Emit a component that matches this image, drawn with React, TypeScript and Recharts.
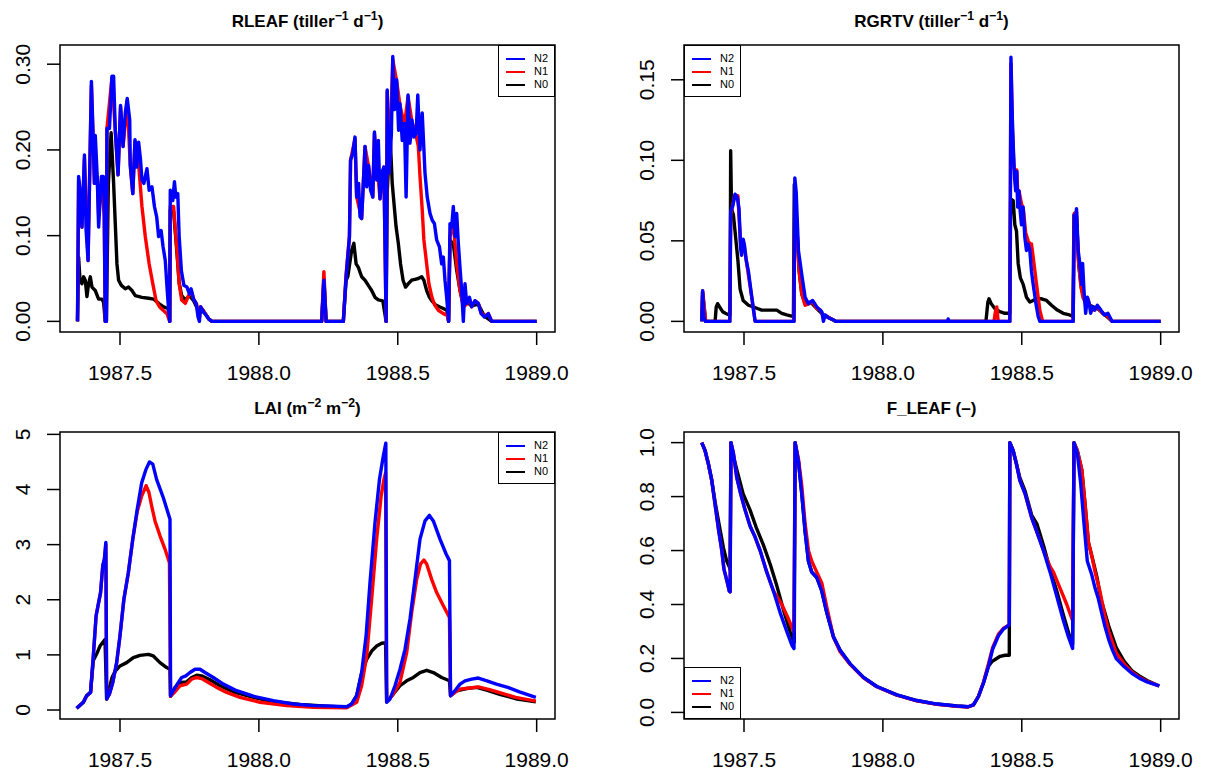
import React from 'react';
import { LineChart, Line, XAxis, YAxis, ReferenceArea } from 'recharts';

type Pt = [number, number];

const FONT = '"Liberation Sans", Arial, Helvetica, sans-serif';
const X_DOMAIN: [number, number] = [1987.284, 1989.066];
const X_TICKS = [1987.5, 1988.0, 1988.5, 1989.0];

// ---- RLEAF (tiller-1 d-1) ----
const RLEAF_N2: Pt[] = [
  [1987.347, 0], [1987.351, 0.169], [1987.356, 0.153], [1987.363, 0.11], [1987.372, 0.194], [1987.378, 0.106],
  [1987.385, 0.071], [1987.397, 0.28], [1987.403, 0.219], [1987.408, 0.161], [1987.411, 0.217], [1987.418, 0.169],
  [1987.423, 0.11], [1987.433, 0.169], [1987.44, 0.169], [1987.443, 0.14], [1987.447, 0],
  [1987.451, 0], [1987.453, 0.225], [1987.462, 0.225], [1987.471, 0.286], [1987.477, 0.286], [1987.483, 0.223],
  [1987.493, 0.171], [1987.502, 0.252], [1987.511, 0.204], [1987.519, 0.243], [1987.526, 0.26], [1987.535, 0.235],
  [1987.537, 0.182], [1987.546, 0.149], [1987.554, 0.212], [1987.56, 0.18], [1987.567, 0.209], [1987.574, 0.188],
  [1987.579, 0.165], [1987.586, 0.161], [1987.597, 0.178], [1987.605, 0.153], [1987.615, 0.157], [1987.624, 0.134],
  [1987.632, 0.122], [1987.639, 0.099], [1987.648, 0.106], [1987.655, 0.087], [1987.663, 0.071], [1987.67, 0.036],
  [1987.676, 0.009], [1987.679, 0],
  [1987.681, 0.153], [1987.69, 0.141], [1987.696, 0.163], [1987.701, 0.145], [1987.708, 0.149], [1987.713, 0.099],
  [1987.721, 0.059], [1987.73, 0.042], [1987.741, 0.04], [1987.75, 0.032], [1987.756, 0.038], [1987.765, 0.026],
  [1987.774, 0.021], [1987.781, 0.005], [1987.786, 0], [1987.79, 0.017], [1987.801, 0.011], [1987.81, 0.007],
  [1987.819, 0.003], [1987.831, 0],
  [1988.226, 0], [1988.234, 0.048], [1988.242, 0], [1988.304, 0], [1988.314, 0.052], [1988.326, 0.099],
  [1988.33, 0.188], [1988.338, 0.196], [1988.346, 0.215], [1988.352, 0.145], [1988.359, 0.161], [1988.364, 0.122],
  [1988.37, 0.12], [1988.376, 0.161], [1988.382, 0.204], [1988.388, 0.157], [1988.395, 0.182], [1988.402, 0.153],
  [1988.41, 0.145], [1988.416, 0.221], [1988.424, 0.165], [1988.43, 0.211], [1988.436, 0.143], [1988.442, 0.173],
  [1988.45, 0.18], [1988.458, 0],
  [1988.462, 0.27], [1988.469, 0.173], [1988.477, 0.219], [1988.482, 0.309], [1988.488, 0.247], [1988.496, 0.282],
  [1988.503, 0.223], [1988.508, 0.254], [1988.516, 0.211], [1988.524, 0.231], [1988.53, 0.145], [1988.537, 0.264],
  [1988.544, 0.208], [1988.551, 0.235], [1988.558, 0.215], [1988.566, 0.219], [1988.572, 0.264], [1988.58, 0.2],
  [1988.588, 0.243], [1988.598, 0.173], [1988.606, 0.145], [1988.616, 0.126], [1988.624, 0.118], [1988.632, 0.114],
  [1988.64, 0.095], [1988.65, 0.087], [1988.658, 0.067], [1988.664, 0.075], [1988.67, 0.048], [1988.676, 0.028],
  [1988.683, 0],
  [1988.688, 0.114], [1988.694, 0.11], [1988.7, 0.134], [1988.706, 0.099], [1988.712, 0.126], [1988.718, 0.091],
  [1988.724, 0.063], [1988.73, 0.036], [1988.736, 0], [1988.742, 0.044], [1988.748, 0.021], [1988.758, 0.028],
  [1988.766, 0.017], [1988.778, 0.024], [1988.79, 0.021], [1988.8, 0.009], [1988.812, 0.005], [1988.826, 0.009],
  [1988.838, 0], [1989.0, 0],
];
const RLEAF_N1: Pt[] = [
  [1987.347, 0], [1987.351, 0.165], [1987.363, 0.11], [1987.372, 0.19], [1987.385, 0.071], [1987.397, 0.275],
  [1987.408, 0.161], [1987.418, 0.169], [1987.423, 0.124], [1987.433, 0.165], [1987.443, 0.124], [1987.447, 0],
  [1987.451, 0], [1987.453, 0.225], [1987.471, 0.284], [1987.483, 0.223], [1987.493, 0.171], [1987.502, 0.25],
  [1987.511, 0.204], [1987.526, 0.258], [1987.537, 0.182], [1987.546, 0.149], [1987.554, 0.21], [1987.565, 0.192],
  [1987.579, 0.134], [1987.591, 0.099], [1987.605, 0.067], [1987.618, 0.044], [1987.63, 0.024], [1987.642, 0.017],
  [1987.655, 0.013], [1987.669, 0.009], [1987.679, 0],
  [1987.681, 0.134], [1987.693, 0.134], [1987.705, 0.083], [1987.713, 0.044], [1987.722, 0.025], [1987.735, 0.021],
  [1987.744, 0.028], [1987.756, 0.036], [1987.765, 0.026], [1987.776, 0.02], [1987.786, 0.004], [1987.79, 0.017],
  [1987.801, 0.012], [1987.819, 0.003], [1987.831, 0],
  [1988.226, 0], [1988.234, 0.058], [1988.242, 0], [1988.304, 0], [1988.314, 0.055], [1988.326, 0.099],
  [1988.33, 0.188], [1988.346, 0.213], [1988.352, 0.145], [1988.37, 0.12], [1988.382, 0.204], [1988.395, 0.18],
  [1988.41, 0.145], [1988.416, 0.219], [1988.436, 0.143], [1988.45, 0.18], [1988.458, 0],
  [1988.462, 0.268], [1988.469, 0.173], [1988.482, 0.305], [1988.496, 0.28], [1988.508, 0.252], [1988.524, 0.229],
  [1988.537, 0.262], [1988.551, 0.233], [1988.566, 0.217], [1988.574, 0.204], [1988.58, 0.169], [1988.588, 0.13],
  [1988.594, 0.095], [1988.604, 0.067], [1988.612, 0.044], [1988.623, 0.028], [1988.633, 0.019], [1988.646, 0.013],
  [1988.664, 0.009], [1988.678, 0.007], [1988.683, 0],
  [1988.688, 0.099], [1988.7, 0.114], [1988.712, 0.067], [1988.724, 0.036], [1988.736, 0.017], [1988.748, 0.02],
  [1988.758, 0.026], [1988.766, 0.017], [1988.778, 0.024], [1988.79, 0.021], [1988.8, 0.01], [1988.812, 0.006],
  [1988.826, 0.009], [1988.838, 0], [1989.0, 0],
];
const RLEAF_N0: Pt[] = [
  [1987.347, 0], [1987.351, 0.075], [1987.356, 0.048], [1987.363, 0.044], [1987.369, 0.052], [1987.375, 0.048],
  [1987.381, 0.029], [1987.387, 0.044], [1987.393, 0.052], [1987.399, 0.04], [1987.411, 0.036], [1987.423, 0.026],
  [1987.435, 0.026], [1987.441, 0.022], [1987.447, 0],
  [1987.451, 0], [1987.458, 0.16], [1987.468, 0.22], [1987.477, 0.161], [1987.483, 0.114], [1987.489, 0.067],
  [1987.495, 0.048], [1987.505, 0.042], [1987.519, 0.038], [1987.531, 0.04], [1987.543, 0.036], [1987.555, 0.03],
  [1987.579, 0.028], [1987.603, 0.027], [1987.621, 0.026], [1987.639, 0.021], [1987.657, 0.017], [1987.673, 0.015],
  [1987.679, 0],
  [1987.681, 0.13], [1987.693, 0.128], [1987.705, 0.08], [1987.713, 0.045], [1987.722, 0.03], [1987.735, 0.025],
  [1987.75, 0.03], [1987.765, 0.024], [1987.786, 0.01], [1987.801, 0.012], [1987.819, 0.003], [1987.831, 0],
  [1988.226, 0], [1988.234, 0.05], [1988.242, 0], [1988.304, 0], [1988.314, 0.048], [1988.32, 0.052],
  [1988.334, 0.083], [1988.342, 0.091], [1988.35, 0.067], [1988.358, 0.063], [1988.37, 0.052], [1988.382, 0.048],
  [1988.394, 0.042], [1988.406, 0.036], [1988.418, 0.028], [1988.43, 0.025], [1988.446, 0.024], [1988.458, 0],
  [1988.462, 0.15], [1988.472, 0.22], [1988.48, 0.161], [1988.494, 0.11], [1988.502, 0.091], [1988.51, 0.067],
  [1988.519, 0.048], [1988.528, 0.04], [1988.538, 0.044], [1988.55, 0.048], [1988.562, 0.049], [1988.574, 0.05],
  [1988.586, 0.052], [1988.594, 0.048], [1988.604, 0.036], [1988.614, 0.028], [1988.625, 0.023], [1988.637, 0.019],
  [1988.65, 0.017], [1988.664, 0.015], [1988.676, 0.013], [1988.683, 0],
  [1988.688, 0.095], [1988.7, 0.09], [1988.712, 0.06], [1988.724, 0.036], [1988.736, 0.02], [1988.75, 0.022],
  [1988.766, 0.018], [1988.79, 0.02], [1988.812, 0.006], [1988.838, 0], [1989.0, 0],
];

// ---- RGRTV (tiller-1 d-1) ----
const RGRTV_N2: Pt[] = [
  [1987.348, 0], [1987.351, 0.019], [1987.356, 0.002], [1987.362, 0], [1987.449, 0], [1987.452, 0.068],
  [1987.46, 0.072], [1987.468, 0.079], [1987.476, 0.077], [1987.482, 0.07], [1987.488, 0.045], [1987.491, 0.041],
  [1987.497, 0.051], [1987.502, 0.047], [1987.508, 0.038], [1987.516, 0.031], [1987.528, 0.015], [1987.54, 0],
  [1987.68, 0], [1987.683, 0.089], [1987.688, 0.08], [1987.696, 0.044], [1987.708, 0.029], [1987.72, 0.015],
  [1987.732, 0.011], [1987.747, 0.013], [1987.762, 0.009], [1987.78, 0.006], [1987.786, 0], [1987.792, 0.004],
  [1987.806, 0.002], [1987.822, 0.001], [1987.83, 0], [1988.232, 0], [1988.235, 0.0015], [1988.238, 0],
  [1988.457, 0], [1988.461, 0.164], [1988.466, 0.126], [1988.47, 0.106], [1988.474, 0.089], [1988.478, 0.081],
  [1988.482, 0.093], [1988.485, 0.071], [1988.49, 0.081], [1988.494, 0.069], [1988.499, 0.06], [1988.505, 0.071],
  [1988.511, 0.052], [1988.517, 0.044], [1988.523, 0.048], [1988.529, 0.044], [1988.535, 0.031], [1988.541, 0.023],
  [1988.551, 0.011], [1988.559, 0.003], [1988.565, 0], [1988.685, 0], [1988.689, 0.066], [1988.693, 0.06],
  [1988.697, 0.07], [1988.703, 0.044], [1988.709, 0.036], [1988.715, 0.023], [1988.719, 0.036], [1988.724, 0.019],
  [1988.73, 0.005], [1988.736, 0.015], [1988.743, 0.011], [1988.748, 0.005], [1988.755, 0.009], [1988.763, 0.007],
  [1988.772, 0.01], [1988.785, 0.007], [1988.797, 0.004], [1988.81, 0.005], [1988.825, 0], [1989.0, 0],
];
const RGRTV_N1: Pt[] = [
  [1987.348, 0], [1987.351, 0.019], [1987.362, 0], [1987.449, 0], [1987.452, 0.066], [1987.466, 0.078],
  [1987.478, 0.078], [1987.488, 0.047], [1987.497, 0.05], [1987.508, 0.038], [1987.528, 0.015], [1987.54, 0],
  [1987.68, 0], [1987.683, 0.085], [1987.69, 0.06], [1987.698, 0.032], [1987.708, 0.017], [1987.72, 0.01],
  [1987.735, 0.011], [1987.747, 0.012], [1987.762, 0.008], [1987.775, 0.007], [1987.786, 0.003], [1987.8, 0.003],
  [1987.83, 0], [1988.4, 0], [1988.405, 0.006], [1988.41, 0.009], [1988.415, 0], [1988.457, 0],
  [1988.461, 0.16], [1988.466, 0.12], [1988.472, 0.095], [1988.478, 0.094], [1988.482, 0.094], [1988.486, 0.078],
  [1988.49, 0.081], [1988.499, 0.073], [1988.506, 0.069], [1988.514, 0.055], [1988.523, 0.05], [1988.53, 0.048],
  [1988.535, 0.048], [1988.541, 0.04], [1988.553, 0.023], [1988.565, 0.007], [1988.575, 0], [1988.685, 0],
  [1988.689, 0.067], [1988.697, 0.068], [1988.703, 0.04], [1988.712, 0.023], [1988.72, 0.015], [1988.728, 0.012],
  [1988.738, 0.014], [1988.748, 0.008], [1988.76, 0.007], [1988.772, 0.009], [1988.79, 0.005], [1988.805, 0.004],
  [1988.825, 0], [1989.0, 0],
];
const RGRTV_N0: Pt[] = [
  [1987.348, 0], [1987.351, 0.018], [1987.362, 0], [1987.396, 0], [1987.4, 0.009], [1987.405, 0.011],
  [1987.412, 0.009], [1987.423, 0.006], [1987.433, 0.005], [1987.446, 0.004], [1987.45, 0.004], [1987.452, 0.106],
  [1987.455, 0.07], [1987.462, 0.066], [1987.47, 0.052], [1987.478, 0.038], [1987.486, 0.02], [1987.497, 0.013],
  [1987.516, 0.01], [1987.533, 0.009], [1987.548, 0.008], [1987.564, 0.007], [1987.594, 0.007], [1987.618, 0.007],
  [1987.636, 0.005], [1987.654, 0.004], [1987.678, 0.003], [1987.681, 0.085], [1987.69, 0.06], [1987.698, 0.032],
  [1987.708, 0.017], [1987.72, 0.011], [1987.74, 0.012], [1987.762, 0.008], [1987.786, 0.004], [1987.83, 0],
  [1988.371, 0], [1988.378, 0.012], [1988.382, 0.014], [1988.39, 0.011], [1988.403, 0.008], [1988.421, 0.006],
  [1988.439, 0.005], [1988.457, 0.005], [1988.46, 0.076], [1988.469, 0.075], [1988.475, 0.06], [1988.481, 0.056],
  [1988.487, 0.036], [1988.495, 0.027], [1988.505, 0.023], [1988.517, 0.015], [1988.529, 0.012], [1988.541, 0.013],
  [1988.556, 0.014], [1988.571, 0.014], [1988.589, 0.013], [1988.607, 0.01], [1988.628, 0.007], [1988.649, 0.005],
  [1988.672, 0.004], [1988.684, 0.003], [1988.688, 0.066], [1988.697, 0.065], [1988.705, 0.035], [1988.715, 0.02],
  [1988.728, 0.012], [1988.745, 0.01], [1988.772, 0.008], [1988.8, 0.004], [1988.825, 0], [1989.0, 0],
];

// ---- LAI (m-2 m-2) ----
const LAI_N2: Pt[] = [
  [1987.344, 0.03], [1987.368, 0.14], [1987.38, 0.26], [1987.394, 0.32], [1987.404, 0.98], [1987.414, 1.71],
  [1987.422, 1.92], [1987.43, 2.13], [1987.438, 2.62], [1987.444, 2.74], [1987.449, 3.04], [1987.452, 0.2],
  [1987.462, 0.29], [1987.474, 0.5], [1987.488, 0.86], [1987.5, 1.35], [1987.514, 2.01], [1987.53, 2.49],
  [1987.546, 3.1], [1987.562, 3.64], [1987.578, 4.12], [1987.594, 4.37], [1987.606, 4.5], [1987.618, 4.46],
  [1987.632, 4.18], [1987.656, 3.85], [1987.68, 3.46], [1987.682, 0.26], [1987.692, 0.35], [1987.706, 0.47],
  [1987.722, 0.59], [1987.737, 0.62], [1987.752, 0.68], [1987.77, 0.74], [1987.788, 0.74], [1987.806, 0.68],
  [1987.836, 0.59], [1987.872, 0.47], [1987.92, 0.35], [1987.98, 0.25], [1988.052, 0.17], [1988.124, 0.11],
  [1988.196, 0.08], [1988.268, 0.07], [1988.316, 0.06], [1988.334, 0.11], [1988.352, 0.26], [1988.37, 0.68],
  [1988.386, 1.35], [1988.4, 2.31], [1988.418, 3.4], [1988.434, 4.18], [1988.448, 4.61], [1988.457, 4.84],
  [1988.46, 0.14], [1988.472, 0.2], [1988.49, 0.44], [1988.508, 0.74], [1988.526, 1.1], [1988.544, 1.65],
  [1988.562, 2.37], [1988.58, 3.1], [1988.598, 3.43], [1988.614, 3.53], [1988.628, 3.43], [1988.652, 3.1],
  [1988.674, 2.83], [1988.686, 2.71], [1988.69, 0.26], [1988.706, 0.35], [1988.724, 0.47], [1988.742, 0.53],
  [1988.766, 0.56], [1988.79, 0.58], [1988.821, 0.53], [1988.855, 0.47], [1988.896, 0.41], [1988.938, 0.33],
  [1988.997, 0.23],
];
const LAI_N1: Pt[] = [
  [1987.344, 0.03], [1987.368, 0.14], [1987.38, 0.26], [1987.394, 0.32], [1987.404, 0.98], [1987.414, 1.71],
  [1987.422, 1.92], [1987.43, 2.13], [1987.438, 2.62], [1987.444, 2.74], [1987.449, 3.0], [1987.452, 0.2],
  [1987.462, 0.29], [1987.474, 0.5], [1987.488, 0.86], [1987.5, 1.35], [1987.514, 2.01], [1987.53, 2.49],
  [1987.546, 3.1], [1987.562, 3.6], [1987.578, 3.88], [1987.594, 4.07], [1987.604, 3.95], [1987.614, 3.7],
  [1987.626, 3.43], [1987.644, 3.16], [1987.662, 2.92], [1987.678, 2.67], [1987.682, 0.25], [1987.696, 0.32],
  [1987.716, 0.44], [1987.74, 0.47], [1987.758, 0.56], [1987.776, 0.59], [1987.794, 0.57], [1987.818, 0.5],
  [1987.848, 0.41], [1987.884, 0.32], [1987.932, 0.23], [1988.004, 0.14], [1988.1, 0.08], [1988.196, 0.05],
  [1988.316, 0.04], [1988.352, 0.14], [1988.37, 0.44], [1988.388, 0.98], [1988.406, 2.01], [1988.424, 3.1],
  [1988.44, 3.88], [1988.45, 4.18], [1988.456, 4.3], [1988.46, 0.15], [1988.48, 0.26], [1988.508, 0.5],
  [1988.532, 1.04], [1988.55, 1.77], [1988.568, 2.37], [1988.582, 2.65], [1988.594, 2.72], [1988.604, 2.65],
  [1988.622, 2.37], [1988.64, 2.13], [1988.664, 1.89], [1988.686, 1.68], [1988.69, 0.26], [1988.706, 0.32],
  [1988.724, 0.38], [1988.76, 0.4], [1988.79, 0.42], [1988.83, 0.37], [1988.87, 0.31], [1988.924, 0.23],
  [1988.997, 0.16],
];
const LAI_N0: Pt[] = [
  [1987.344, 0.03], [1987.368, 0.14], [1987.38, 0.26], [1987.394, 0.32], [1987.404, 0.9], [1987.418, 1.04],
  [1987.428, 1.16], [1987.446, 1.28], [1987.452, 0.2], [1987.462, 0.4], [1987.472, 0.6], [1987.482, 0.7],
  [1987.5, 0.8], [1987.524, 0.86], [1987.548, 0.95], [1987.572, 0.99], [1987.602, 1.01], [1987.62, 0.98],
  [1987.644, 0.86], [1987.668, 0.77], [1987.68, 0.74], [1987.682, 0.25], [1987.698, 0.41], [1987.722, 0.5],
  [1987.74, 0.51], [1987.758, 0.59], [1987.776, 0.63], [1987.794, 0.62], [1987.824, 0.55], [1987.86, 0.44],
  [1987.908, 0.33], [1987.98, 0.23], [1988.052, 0.15], [1988.148, 0.1], [1988.244, 0.07], [1988.316, 0.05],
  [1988.334, 0.11], [1988.352, 0.26], [1988.37, 0.68], [1988.388, 0.92], [1988.406, 1.07], [1988.424, 1.16],
  [1988.442, 1.21], [1988.456, 1.22], [1988.46, 0.15], [1988.484, 0.29], [1988.508, 0.44], [1988.532, 0.53],
  [1988.556, 0.59], [1988.58, 0.68], [1988.604, 0.72], [1988.628, 0.68], [1988.658, 0.59], [1988.686, 0.53],
  [1988.69, 0.26], [1988.712, 0.35], [1988.748, 0.39], [1988.784, 0.41], [1988.82, 0.36], [1988.87, 0.28],
  [1988.93, 0.2], [1988.997, 0.15],
];

// ---- F_LEAF (-) ----
const FLEAF_N2: Pt[] = [
  [1987.348, 1.0], [1987.36, 0.97], [1987.372, 0.92], [1987.384, 0.86], [1987.396, 0.77], [1987.408, 0.68],
  [1987.42, 0.6], [1987.428, 0.53], [1987.438, 0.49], [1987.447, 0.45], [1987.45, 0.447], [1987.453, 1.0],
  [1987.462, 0.96], [1987.474, 0.87], [1987.488, 0.81], [1987.504, 0.75], [1987.522, 0.69], [1987.54, 0.65],
  [1987.558, 0.6], [1987.582, 0.52], [1987.606, 0.45], [1987.63, 0.37], [1987.654, 0.3], [1987.672, 0.25],
  [1987.68, 0.237], [1987.684, 1.0], [1987.696, 0.93], [1987.708, 0.81], [1987.72, 0.67], [1987.732, 0.56],
  [1987.744, 0.52], [1987.762, 0.5], [1987.78, 0.45], [1987.798, 0.37], [1987.822, 0.28], [1987.846, 0.23],
  [1987.882, 0.18], [1987.93, 0.13], [1987.978, 0.096], [1988.05, 0.065], [1988.122, 0.044], [1988.194, 0.031],
  [1988.266, 0.024], [1988.307, 0.021], [1988.326, 0.028], [1988.344, 0.059], [1988.362, 0.109], [1988.38, 0.171],
  [1988.395, 0.234], [1988.416, 0.284], [1988.434, 0.309], [1988.451, 0.322], [1988.455, 0.325], [1988.457, 1.0],
  [1988.469, 0.97], [1988.481, 0.92], [1988.493, 0.86], [1988.512, 0.81], [1988.536, 0.72], [1988.554, 0.67],
  [1988.578, 0.6], [1988.602, 0.52], [1988.626, 0.43], [1988.65, 0.34], [1988.668, 0.28], [1988.683, 0.237],
  [1988.688, 1.0], [1988.7, 0.96], [1988.712, 0.85], [1988.724, 0.7], [1988.736, 0.56], [1988.752, 0.51],
  [1988.764, 0.46], [1988.776, 0.42], [1988.785, 0.38], [1988.799, 0.32], [1988.813, 0.27], [1988.827, 0.23],
  [1988.84, 0.2], [1988.868, 0.17], [1988.896, 0.145], [1988.923, 0.127], [1988.951, 0.113], [1988.975, 0.105],
  [1988.995, 0.098],
];
const FLEAF_N1: Pt[] = [
  [1987.348, 1.0], [1987.36, 0.97], [1987.372, 0.92], [1987.384, 0.86], [1987.396, 0.77], [1987.408, 0.68],
  [1987.42, 0.6], [1987.428, 0.53], [1987.438, 0.49], [1987.447, 0.45], [1987.45, 0.447], [1987.453, 1.0],
  [1987.462, 0.96], [1987.474, 0.87], [1987.488, 0.81], [1987.504, 0.75], [1987.522, 0.69], [1987.54, 0.65],
  [1987.558, 0.6], [1987.582, 0.52], [1987.606, 0.45], [1987.636, 0.4], [1987.654, 0.36], [1987.675, 0.31],
  [1987.68, 0.3], [1987.684, 1.0], [1987.696, 0.94], [1987.708, 0.84], [1987.72, 0.7], [1987.732, 0.6],
  [1987.744, 0.56], [1987.762, 0.52], [1987.78, 0.48], [1987.798, 0.39], [1987.822, 0.28], [1987.846, 0.225],
  [1987.882, 0.178], [1987.93, 0.128], [1987.978, 0.095], [1988.05, 0.064], [1988.122, 0.043], [1988.194, 0.03],
  [1988.266, 0.023], [1988.307, 0.02], [1988.326, 0.028], [1988.344, 0.06], [1988.362, 0.112], [1988.38, 0.18],
  [1988.395, 0.24], [1988.416, 0.29], [1988.434, 0.312], [1988.451, 0.322], [1988.455, 0.325], [1988.457, 1.0],
  [1988.469, 0.97], [1988.481, 0.92], [1988.493, 0.86], [1988.512, 0.81], [1988.536, 0.72], [1988.554, 0.67],
  [1988.578, 0.6], [1988.602, 0.54], [1988.614, 0.52], [1988.638, 0.46], [1988.662, 0.4], [1988.683, 0.34],
  [1988.688, 1.0], [1988.7, 0.97], [1988.716, 0.9], [1988.728, 0.77], [1988.74, 0.63], [1988.752, 0.58],
  [1988.764, 0.52], [1988.781, 0.45], [1988.799, 0.36], [1988.813, 0.3], [1988.84, 0.22], [1988.868, 0.18],
  [1988.896, 0.15], [1988.923, 0.13], [1988.951, 0.115], [1988.975, 0.106], [1988.995, 0.098],
];
const FLEAF_N0: Pt[] = [
  [1987.348, 1.0], [1987.36, 0.97], [1987.372, 0.92], [1987.384, 0.86], [1987.396, 0.78], [1987.408, 0.71],
  [1987.426, 0.61], [1987.438, 0.56], [1987.447, 0.54], [1987.45, 0.53], [1987.453, 1.0], [1987.462, 0.95],
  [1987.474, 0.9], [1987.497, 0.81], [1987.522, 0.75], [1987.546, 0.68], [1987.57, 0.62], [1987.594, 0.55],
  [1987.618, 0.47], [1987.642, 0.38], [1987.666, 0.3], [1987.678, 0.265], [1987.681, 0.26], [1987.684, 1.0],
  [1987.696, 0.93], [1987.708, 0.81], [1987.72, 0.67], [1987.732, 0.56], [1987.744, 0.52], [1987.762, 0.5],
  [1987.78, 0.45], [1987.798, 0.37], [1987.822, 0.28], [1987.846, 0.23], [1987.882, 0.18], [1987.93, 0.13],
  [1987.978, 0.096], [1988.05, 0.065], [1988.122, 0.044], [1988.194, 0.031], [1988.266, 0.024], [1988.307, 0.021],
  [1988.326, 0.028], [1988.344, 0.059], [1988.362, 0.109], [1988.38, 0.171], [1988.392, 0.188], [1988.404, 0.196],
  [1988.422, 0.208], [1988.44, 0.212], [1988.455, 0.212], [1988.457, 1.0], [1988.469, 0.97], [1988.481, 0.92],
  [1988.493, 0.87], [1988.512, 0.82], [1988.536, 0.73], [1988.554, 0.7], [1988.578, 0.62], [1988.602, 0.53],
  [1988.626, 0.45], [1988.65, 0.36], [1988.673, 0.28], [1988.683, 0.253], [1988.688, 1.0], [1988.7, 0.97],
  [1988.716, 0.9], [1988.728, 0.77], [1988.74, 0.63], [1988.757, 0.56], [1988.771, 0.5], [1988.785, 0.42],
  [1988.813, 0.32], [1988.84, 0.24], [1988.868, 0.19], [1988.896, 0.155], [1988.923, 0.135], [1988.951, 0.118],
  [1988.975, 0.107], [1988.995, 0.098],
];

const toPts = (a: Pt[]) => a.map(([t, v]) => ({ t, v }));

const Sup = ({ children }: any) => (
  <span style={{ fontSize: '0.72em', position: 'relative', top: '-0.55em' }}>{children}</span>
);

const XTick = ({ x, y, payload }: any) => (
  <text x={x} y={y + 33} textAnchor="middle" fontSize={21} fill="#000" fontFamily={FONT}>
    {Number(payload.value).toFixed(1)}
  </text>
);

const makeYTick = (digits: number) => ({ x, y, payload }: any) => (
  <text
    x={x - 15}
    y={y}
    transform={`rotate(-90 ${x - 15} ${y})`}
    textAnchor="middle"
    fontSize={21}
    fill="#000"
    fontFamily={FONT}
  >
    {Number(payload.value).toFixed(digits)}
  </text>
);

const LegendBox = ({ left, top }: { left: number; top: number }) => (
  <div
    style={{
      position: 'absolute', left, top, width: 57, height: 52, boxSizing: 'border-box',
      border: '1.5px solid #000', background: '#fff', fontFamily: FONT, fontSize: 11,
    }}
  >
    {[['N2', '#0000ff'], ['N1', '#ff0000'], ['N0', '#000000']].map(([name, col], i) => (
      <div key={name} style={{ position: 'absolute', left: 0, top: 6 + i * 13, height: 13, width: 55 }}>
        <div style={{ position: 'absolute', left: 7, top: 5.5, width: 19, height: 2, background: col }} />
        <div style={{ position: 'absolute', left: 35, top: 0, lineHeight: '13px' }}>{name}</div>
      </div>
    ))}
  </div>
);

type PanelProps = {
  left: number;
  top: number;
  title: React.ReactNode;
  domain: [number, number];
  ticks: number[];
  digits: number;
  n2: Pt[];
  n1: Pt[];
  n0: Pt[];
  legend: [number, number];
};

function Panel({ left, top, title, domain, ticks, digits, n2, n1, n0, legend }: PanelProps) {
  const series: [Pt[], string][] = [[n0, '#000000'], [n1, '#ff0000'], [n2, '#0000ff']];
  return (
    <div style={{ position: 'absolute', left, top, width: 602, height: 387 }}>
      <div
        style={{
          position: 'absolute', left: 60, width: 495, top: 12, textAlign: 'center',
          fontFamily: FONT, fontWeight: 'bold', fontSize: 17, lineHeight: '20px',
        }}
      >
        {title}
      </div>
      <LineChart width={602} height={387} margin={{ top: 45, right: 47, bottom: 0, left: 0 }}>
        <XAxis
          type="number"
          dataKey="t"
          domain={X_DOMAIN}
          ticks={X_TICKS}
          interval={0}
          allowDataOverflow
          axisLine={false}
          tickLine={{ stroke: '#000', strokeWidth: 1.5 }}
          tickSize={13}
          height={55}
          tick={<XTick />}
        />
        <YAxis
          type="number"
          domain={domain}
          ticks={ticks}
          interval={0}
          allowDataOverflow
          axisLine={false}
          tickLine={{ stroke: '#000', strokeWidth: 1.5 }}
          tickSize={13}
          width={60}
          tick={makeYTick(digits)}
        />
        {series.map(([d, col], i) => (
          <Line
            key={i}
            data={toPts(d)}
            dataKey="v"
            type="linear"
            stroke={col}
            strokeWidth={3.4}
            strokeLinejoin="round"
            dot={false}
            activeDot={false}
            isAnimationActive={false}
          />
        ))}
        <ReferenceArea
          x1={X_DOMAIN[0]}
          x2={X_DOMAIN[1]}
          y1={domain[0]}
          y2={domain[1]}
          fill="none"
          stroke="#000"
          strokeWidth={1.5}
          ifOverflow="visible"
        />
      </LineChart>
      <LegendBox left={legend[0]} top={legend[1]} />
    </div>
  );
}

export default function App() {
  return (
    <div
      style={{
        position: 'absolute', left: 0, top: 0, width: 1205, height: 774,
        overflow: 'hidden', background: '#fff',
      }}
    >
      <Panel
        left={0}
        top={0}
        title={<>RLEAF (tiller<Sup>−1</Sup> d<Sup>−1</Sup>)</>}
        domain={[-0.0124, 0.3224]}
        ticks={[0, 0.1, 0.2, 0.3]}
        digits={2}
        n2={RLEAF_N2}
        n1={RLEAF_N1}
        n0={RLEAF_N0}
        legend={[498, 45]}
      />
      <Panel
        left={624}
        top={0}
        title={<>RGRTV (tiller<Sup>−1</Sup> d<Sup>−1</Sup>)</>}
        domain={[-0.0066, 0.1716]}
        ticks={[0, 0.05, 0.1, 0.15]}
        digits={2}
        n2={RGRTV_N2}
        n1={RGRTV_N1}
        n0={RGRTV_N0}
        legend={[60, 45]}
      />
      <Panel
        left={0}
        top={387}
        title={<>LAI (m<Sup>−2</Sup> m<Sup>−2</Sup>)</>}
        domain={[-0.163, 5.043]}
        ticks={[0, 1, 2, 3, 4, 5]}
        digits={0}
        n2={LAI_N2}
        n1={LAI_N1}
        n0={LAI_N0}
        legend={[498, 45]}
      />
      <Panel
        left={624}
        top={387}
        title={<>F_LEAF (–)</>}
        domain={[-0.0244, 1.0394]}
        ticks={[0, 0.2, 0.4, 0.6, 0.8, 1.0]}
        digits={1}
        n2={FLEAF_N2}
        n1={FLEAF_N1}
        n0={FLEAF_N0}
        legend={[60, 280]}
      />
    </div>
  );
}
